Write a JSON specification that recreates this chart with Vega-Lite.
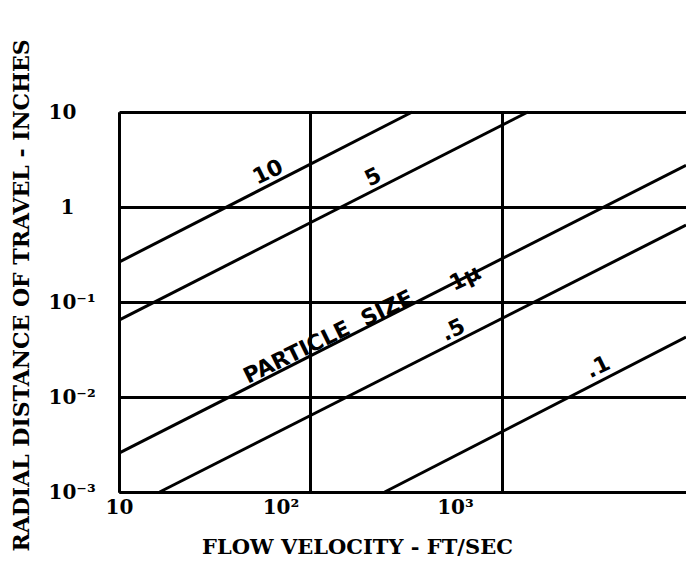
{
  "$schema": "https://vega.github.io/schema/vega-lite/v6.json",
  "width": 567,
  "height": 380,
  "autosize": {"type": "none"},
  "padding": {"left": 119, "top": 112, "right": 0, "bottom": 79},
  "background": "white",
  "config": {"view": {"stroke": null}},
  "datasets": {
    "curves": [
      {"size": "10", "v": 10, "r": 0.263},
      {"size": "10", "v": 340, "r": 10},
      {"size": "5", "v": 10, "r": 0.0645},
      {"size": "5", "v": 1365, "r": 10},
      {"size": "1", "v": 10, "r": 0.00257},
      {"size": "1", "v": 9140, "r": 2.75},
      {"size": ".5", "v": 16.3, "r": 0.001},
      {"size": ".5", "v": 9140, "r": 0.645},
      {"size": ".1", "v": 244, "r": 0.001},
      {"size": ".1", "v": 9140, "r": 0.0427}
    ],
    "tags": [
      {"tag": "10", "v": 60, "r": 2.33},
      {"tag": "5", "v": 212, "r": 2.07},
      {"tag": "PARTICLE\u00a0\u00a0SIZE", "v": 124, "r": 0.0428},
      {"tag": "1µ", "v": 641, "r": 0.179},
      {"tag": ".5", "v": 555, "r": 0.0507},
      {"tag": ".1", "v": 3170, "r": 0.0207}
    ]
  },
  "layer": [
    {
      "data": {"name": "curves"},
      "mark": {"type": "line", "color": "black", "strokeWidth": 3},
      "encoding": {
        "x": {
          "field": "v",
          "type": "quantitative",
          "scale": {"type": "log", "domain": [10, 9140], "nice": false},
          "axis": {
            "values": [10, 100, 1000],
            "grid": true,
            "gridColor": "black",
            "gridWidth": 3,
            "gridOpacity": 1,
            "domainColor": "black",
            "domainWidth": 3,
            "ticks": false,
            "tickSize": 0,
            "labelExpr": "datum.value < 50 ? '10' : datum.value < 500 ? '10²' : '10³'",
            "labelFont": "DejaVu Serif",
            "labelFontWeight": "bold",
            "labelFontSize": 20,
            "labelColor": "black",
            "labelPadding": 5,
            "labelBaseline": "top",
            "labelFlush": false,
            "labelOverlap": false,
            "labelOffset": {
              "condition": [
                {"test": "datum.value > 50 && datum.value < 500", "value": -30},
                {"test": "datum.value > 500", "value": -47}
              ],
              "value": 0
            },
            "title": "FLOW VELOCITY - FT/SEC",
            "titleFont": "DejaVu Serif",
            "titleFontWeight": "bold",
            "titleFontSize": 21,
            "titleColor": "black",
            "titleX": 238,
            "titleY": 61,
            "titleAlign": "center",
            "titleBaseline": "alphabetic"
          }
        },
        "y": {
          "field": "r",
          "type": "quantitative",
          "scale": {"type": "log", "domain": [0.001, 10], "nice": false},
          "axis": {
            "values": [0.001, 0.01, 0.1, 1, 10],
            "grid": true,
            "gridColor": "black",
            "gridWidth": 3,
            "gridOpacity": 1,
            "domainColor": "black",
            "domainWidth": 3,
            "ticks": false,
            "tickSize": 0,
            "labelExpr": "datum.value > 5 ? '10' : datum.value > 0.5 ? '1' : datum.value > 0.05 ? '10⁻¹' : datum.value > 0.005 ? '10⁻²' : '10⁻³'",
            "labelFont": "DejaVu Serif",
            "labelFontWeight": "bold",
            "labelFontSize": 20,
            "labelColor": "black",
            "labelAlign": "left",
            "labelBaseline": "middle",
            "labelPadding": {
              "condition": {"test": "datum.value > 0.5 && datum.value < 5", "value": 59},
              "value": 71
            },
            "labelFlush": false,
            "labelOverlap": false,
            "title": "RADIAL DISTANCE OF TRAVEL - INCHES",
            "titleFont": "DejaVu Serif",
            "titleFontWeight": "bold",
            "titleFontSize": 22,
            "titleColor": "black",
            "titleAngle": -90,
            "titleX": -98,
            "titleY": 183,
            "titleAlign": "center",
            "titleBaseline": "middle"
          }
        },
        "detail": {"field": "size", "type": "nominal"}
      }
    },
    {
      "data": {"name": "tags"},
      "mark": {
        "type": "text",
        "angle": 334,
        "font": "DejaVu Sans",
        "fontWeight": "bold",
        "fontSize": 22,
        "color": "black",
        "align": "center",
        "baseline": "middle"
      },
      "encoding": {
        "x": {"field": "v", "type": "quantitative"},
        "y": {"field": "r", "type": "quantitative"},
        "text": {"field": "tag", "type": "nominal"}
      }
    }
  ]
}
